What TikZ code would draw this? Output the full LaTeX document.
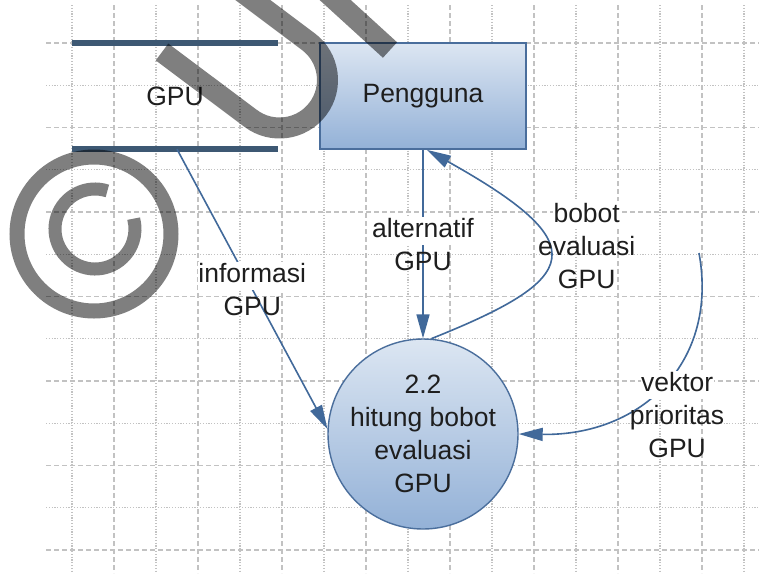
\documentclass[tikz,border=0pt]{standalone}
\usepackage{fontspec}
\setmainfont{Liberation Sans}
\usetikzlibrary{arrows.meta,shapes.geometric,calc}
\definecolor{gridc}{HTML}{C2C2C2}
\definecolor{storec}{HTML}{3D5873}
\definecolor{edgec}{HTML}{41699A}
\definecolor{bordc}{HTML}{4A6E9C}
\definecolor{topc}{HTML}{DCE6F2}
\definecolor{botc}{HTML}{93B1D7}
\definecolor{txtc}{HTML}{1E1E1E}
\newcommand{\wl}[1]{{\setlength{\fboxsep}{0.5pt}\colorbox{white}{\rule[-6.5pt]{0pt}{27pt}#1}}}
\begin{document}
\begin{tikzpicture}[x=1pt,y=1pt,
  every node/.style={font=\fontsize{26.5}{33}\selectfont, text=txtc},
  proc/.style={circle, draw=bordc, line width=1.4pt, top color=topc, bottom color=botc, minimum size=190pt, align=center, inner sep=0pt},
  ent/.style={rectangle, draw=bordc, line width=1.8pt, top color=topc, bottom color=botc, minimum width=206pt, minimum height=106pt},
  store/.style={rectangle, minimum width=206pt, minimum height=106pt},
  flow/.style={draw=edgec, line width=1.6pt, -{Triangle[length=24pt,width=13pt]}},
  lbl/.style={align=center, inner sep=0pt},
  storeline/.style={draw=storec, line width=5.5pt},
  gdash/.style={draw=gridc, line width=1.1pt, dash pattern=on 5pt off 3pt},
  gdot/.style={draw=gridc, line width=1.1pt, dash pattern=on 1.2pt off 1.6pt},
  wm/.style={draw=black, draw opacity=0.5, line cap=butt}
]
\useasboundingbox (0,0) rectangle (759,-573);
\fill[white] (0,0) rectangle (759,-573);
% grid
\foreach \k in {0,...,12} {
  \pgfmathsetmacro\yy{-(43+42.25*\k)}
  \ifodd\k \draw[gdot] (46,\yy) -- (759,\yy); \else \draw[gdash] (46,\yy) -- (759,\yy); \fi
}
\foreach \k in {0,...,16} {
  \pgfmathsetmacro\xx{72+42*\k}
  \ifodd\k \draw[gdash] (\xx,-5) -- (\xx,-573); \else \draw[gdot] (\xx,-5) -- (\xx,-573); \fi
}
% nodes
\node[store] (gpu) at (175,-96) {GPU};
\draw[storeline] (gpu.north west) -- (gpu.north east);
\draw[storeline] (gpu.south west) -- (gpu.south east);
\node[ent] (peng) at (423,-96) {Pengguna};
\node[proc] (proc) at (423,-434) {2.2\\hitung bobot\\evaluasi\\GPU};
\coordinate (vstart) at (699,-253);
% flows
\draw[flow] (peng.south) -- (proc.north)
  node[lbl, midway] (lalt) {\wl{alternatif}\\GPU};
\draw[flow] ([xshift=2pt]gpu.south) -- (proc.177)
  node[lbl, midway] (linfo) {\wl{informasi}\\GPU};
\draw[flow] (proc.85) .. controls +(150,60) and +(170,-95) .. ([xshift=4pt]peng.south)
  node[lbl, pos=0.5, xshift=37.5pt, yshift=12.6pt] (lbob) {\wl{bobot}\\evaluasi\\GPU};
\draw[flow] (vstart) .. controls +(20,-110) and +(122,-2) .. (proc.east)
  node[lbl, pos=0.5, xshift=15pt, yshift=-29pt] (lvek) {\wl{vektor}\\prioritas\\GPU};
% watermark
\begin{scope}
\clip (0,0) rectangle (759,-573);
\draw[wm, line width=21pt] (162,-52) -- (250.7,-118.4) arc[start angle=233.13, end angle=413.13, radius=48] -- ++(-104,78);
\draw[wm, line width=21pt] (322,12) -- (390,-50);
\draw[wm, line width=15pt] (94,-234) circle[radius=77];
\draw[wm, line width=13pt] (95,-229) ++(72:40) arc[start angle=72, end angle=375, radius=40];
\end{scope}
\end{tikzpicture}
\end{document}
